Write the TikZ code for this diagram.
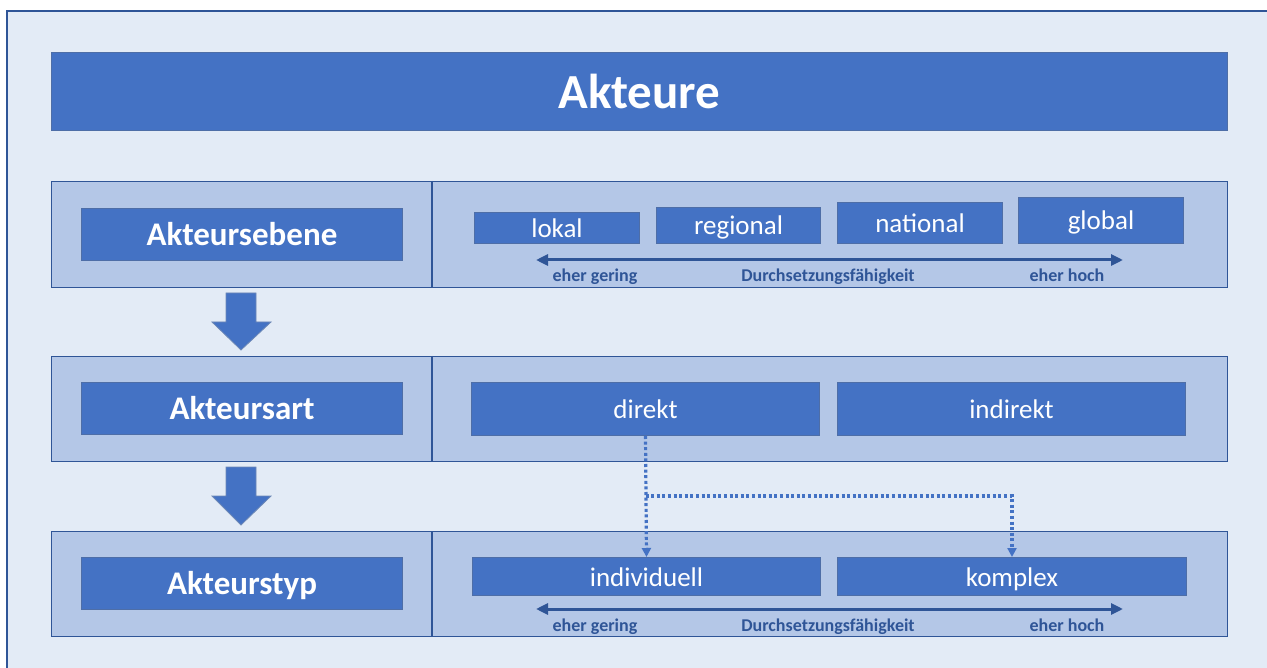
\documentclass[tikz,border=0pt]{standalone}
\usepackage{fontspec}
\setmainfont{Carlito}
\usetikzlibrary{arrows.meta}
\definecolor{bgc}{HTML}{E3EBF6}
\definecolor{panelc}{HTML}{B4C7E7}
\definecolor{boxc}{HTML}{4472C4}
\definecolor{edgec}{HTML}{2F5597}
\definecolor{labc}{HTML}{2F5597}
\begin{document}
\begin{tikzpicture}[x=1pt,y=-1pt,
  panel/.style={draw=edgec, fill=panelc, line width=1.2pt, inner sep=0pt, anchor=north west},
  box/.style={draw=edgec!85, fill=boxc, line width=1pt, inner sep=0pt, anchor=north west, text=white, text height=24pt, text depth=5pt},
  headtext/.style={font=\fontsize{33}{37}\selectfont\bfseries, text height=28pt, text depth=6pt},
  itemtext/.style={font=\fontsize{27}{31}\selectfont},
  lab/.style={text=labc, font=\fontsize{18}{20}\selectfont\bfseries, inner sep=0pt, anchor=base},
  scalearrow/.style={draw=edgec, line width=3pt, {Triangle[length=12pt,width=11pt]}-{Triangle[length=12pt,width=11pt]}},
  dotconn/.style={draw=boxc, line width=3.2pt, dash pattern={on 3pt off 2.6pt}, -{Triangle[length=9pt,width=9pt]}},
  blockarrow/.style={fill=boxc, draw=edgec!70, line width=0.8pt}
]
\useasboundingbox (0,0) rectangle (1267,668);
\fill[white] (0,0) rectangle (1267,668);
\fill[bgc] (7,11) rectangle (1280,680);
\draw[edgec, line width=1.5pt] (7,680) -- (7,11) -- (1280,11);

% title
\node[box, minimum width=1176pt, minimum height=78pt, font=\fontsize{49}{53}\selectfont\bfseries, text height=45pt, text depth=11pt] (title) at (51,52) {Akteure};

% row 1
\node[panel, minimum width=1176pt, minimum height=106pt] (p1) at (51,181) {};
\draw[edgec, line width=1.2pt] (p1.north -| 432,0) -- (p1.south -| 432,0);
\node[box, headtext, minimum width=321pt, minimum height=52pt] (h1) at (81,208) {Akteursebene};
\node[box, itemtext, minimum width=165pt, minimum height=31pt] (lokal) at (474,212) {lokal};
\node[box, itemtext, minimum width=164pt, minimum height=36pt] (regional) at (656,207) {regional};
\node[box, itemtext, minimum width=165pt, minimum height=41pt] (national) at (837,202) {national};
\node[box, itemtext, minimum width=165pt, minimum height=46pt] (global) at (1018,197) {global};
\coordinate (s1l) at (536,260);
\coordinate (s1r) at (1123,260);
\draw[scalearrow] (s1l) -- (s1r);
\node[lab] (g1) at (595,282) {eher gering};
\node[lab] (d1) at (828,282) {Durchsetzungsfähigkeit};
\node[lab] (e1) at (1067,282) {eher hoch};

% block arrow 1
\draw[blockarrow] (226,293) -- (256,293) -- (256,322) -- (271,322) -- (241,350) -- (212,322) -- (226,322) -- cycle;

% row 2
\node[panel, minimum width=1176pt, minimum height=105pt] (p2) at (51,356) {};
\draw[edgec, line width=1.2pt] (p2.north -| 432,0) -- (p2.south -| 432,0);
\node[box, headtext, minimum width=321pt, minimum height=52pt] (h2) at (81,382) {Akteursart};
\node[box, itemtext, minimum width=348pt, minimum height=53pt] (direkt) at (471,382) {direkt};
\node[box, itemtext, minimum width=348pt, minimum height=53pt] (indirekt) at (837,382) {indirekt};

% block arrow 2
\draw[blockarrow] (226,467) -- (256,467) -- (256,496) -- (271,496) -- (241,525) -- (212,496) -- (226,496) -- cycle;

% row 3
\node[panel, minimum width=1176pt, minimum height=105pt] (p3) at (51,531) {};
\draw[edgec, line width=1.2pt] (p3.north -| 432,0) -- (p3.south -| 432,0);
\node[box, headtext, minimum width=321pt, minimum height=52pt] (h3) at (81,557) {Akteurstyp};
\node[box, itemtext, minimum width=348pt, minimum height=38pt] (indiv) at (472,557) {individuell};
\node[box, itemtext, minimum width=349pt, minimum height=38pt] (komplex) at (837,557) {komplex};
\coordinate (s3l) at (536,609);
\coordinate (s3r) at (1123,609);
\draw[scalearrow] (s3l) -- (s3r);
\node[lab] (g3) at (595,631) {eher gering};
\node[lab] (d3) at (828,631) {Durchsetzungsfähigkeit};
\node[lab] (e3) at (1067,631) {eher hoch};

% dotted connectors
\coordinate (br) at (direkt.south |- 0,496);
\draw[dotconn] (direkt.south) -- (indiv.north);
\draw[dotconn] (br) -| (komplex.north);
\end{tikzpicture}
\end{document}
